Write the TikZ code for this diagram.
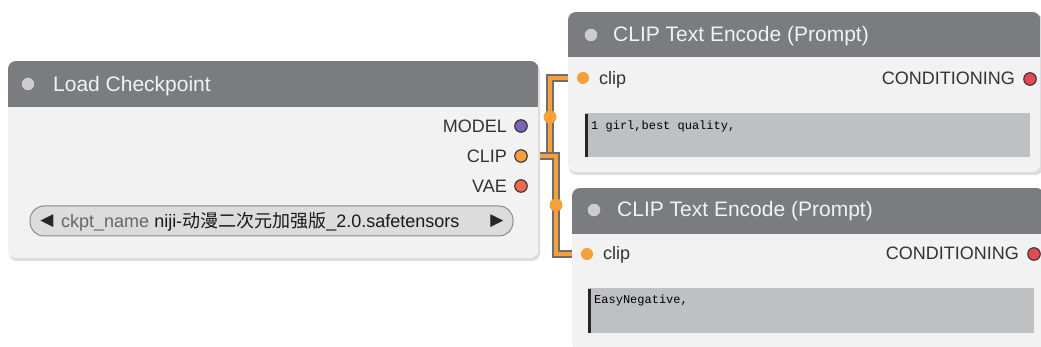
\documentclass[tikz,border=0pt]{standalone}
\usepackage{fontspec}
\setmainfont{Liberation Sans}
\setmonofont{Liberation Mono}
\newfontfamily\cjk{Noto Sans CJK SC}
\newfontfamily\djv{DejaVu Sans}
\definecolor{bodyc}{HTML}{F2F2F2}
\definecolor{headc}{HTML}{7B7C7F}
\definecolor{hdotc}{HTML}{CDCDCD}
\definecolor{titlec}{HTML}{F2F2F2}
\definecolor{lblc}{HTML}{333333}
\definecolor{clipc}{HTML}{F5A03A}
\definecolor{modelc}{HTML}{7A63B8}
\definecolor{vaec}{HTML}{EE6A4A}
\definecolor{condc}{HTML}{E44A55}
\definecolor{areac}{HTML}{BFC0C2}
\definecolor{combofill}{HTML}{DCDCDC}
\definecolor{comboline}{HTML}{8A8A8A}
\definecolor{linkout}{HTML}{6E6E6E}
\definecolor{shadowc}{HTML}{DCDCDC}
\tikzset{
  nodebox/.style={rectangle, fill=bodyc, rounded corners=8pt, inner sep=0, anchor=north west},
  titletxt/.style={anchor=base west, inner sep=0, text=titlec, font=\fontsize{21}{24}\selectfont},
  lbl/.style={inner sep=0, text=lblc, font=\fontsize{18}{20}\selectfont},
  hdot/.style={circle, fill=hdotc, minimum size=12.5pt, inner sep=0},
  slot/.style={circle, minimum size=12.5pt, inner sep=0, draw=lblc, line width=1.1pt},
  inslot/.style={circle, minimum size=12pt, inner sep=0, fill=clipc},
  middot/.style={circle, minimum size=13pt, inner sep=0, fill=clipc},
  link/.style={draw=linkout, line width=2pt, double=clipc, double distance=4.4pt},
  textarea/.style={fill=areac},
  monotxt/.style={anchor=base west, inner sep=0, text=black, font=\ttfamily\fontsize{12}{13}\selectfont},
  arrowtxt/.style={inner sep=0, text=black!85, font=\djv\fontsize{17}{18}\selectfont},
}
\begin{document}
\begin{tikzpicture}[x=1pt,y=-1pt]
\useasboundingbox (0,0) rectangle (1041,347);
\fill[white] (0,0) rectangle (1041,347);

% ---- links (behind nodes)
\coordinate (m1) at (550,117);
\coordinate (m2) at (556,205);
\coordinate (lcclipc) at (521,156);
\coordinate (t1clipc) at (583,78);
\coordinate (t2clipc) at (587,254);
\draw[link] (lcclipc) -| (m1) |- (t1clipc);
\draw[link] (lcclipc) -| (m2) |- (t2clipc);
\node[middot] (m1dot) at (m1) {};
\node[middot] (m2dot) at (m2) {};

% ---- Load Checkpoint
\fill[shadowc, rounded corners=8pt] (9,63) rectangle (540,261);
\node[nodebox, minimum width=530pt, minimum height=197pt] (lc) at (8,61) {};
\begin{scope}
  \clip[rounded corners=8pt] (lc.north west) rectangle (lc.south east);
  \fill[headc] (lc.north west) rectangle ([yshift=-46pt]lc.north east);
\end{scope}
\node[hdot] (lcdot) at (28,84) {};
\node[titletxt] (lctitle) at (53,91.5) {Load Checkpoint};
\node[slot, fill=modelc] (lcmodel) at (521,126) {};
\node[slot, fill=clipc] (lcclip) at (521,156) {};
\node[slot, fill=vaec] (lcvae) at (521,186) {};
\node[lbl, anchor=base east] (lcmodelt) at (507,133) {MODEL};
\node[lbl, anchor=base east] (lcclipt) at (507,163) {CLIP};
\node[lbl, anchor=base east] (lcvaet) at (507,193) {VAE};
\draw[fill=combofill, draw=comboline, line width=1pt, rounded corners=14pt] (30,206) rectangle (513,236);
\node[arrowtxt] (larr) at (47,221) {◀};
\node[arrowtxt] (rarr) at (497,221) {▶};
\node[anchor=base west, inner sep=0, font=\fontsize{18}{20}\selectfont] (combo) at (61,227.5)
  {\textcolor{black!60}{ckpt\_name} \textcolor{black!90}{niji-{\cjk 动漫二次元加强版}\_2.0.safetensors}};

% ---- CLIP Text Encode 1
\fill[shadowc, rounded corners=8pt] (569,14) rectangle (1043,175);
\node[nodebox, minimum width=472pt, minimum height=160pt] (t1) at (568,12) {};
\begin{scope}
  \clip[rounded corners=8pt] (t1.north west) rectangle (t1.south east);
  \fill[headc] (t1.north west) rectangle ([yshift=-45pt]t1.north east);
\end{scope}
\node[hdot] (t1dot) at (591,35) {};
\node[titletxt] (t1title) at (613,42) {CLIP Text Encode (Prompt)};
\node[inslot] (t1clip) at (t1clipc) {};
\node[lbl, anchor=base west] (t1clipt) at (599,85) {clip};
\node[slot, fill=condc] (t1cond) at (1030,79) {};
\node[lbl, anchor=base east] (t1condt) at (1015,85) {CONDITIONING};
\fill[textarea] (585,113) rectangle (1030,157);
\fill[black!85] (585,114) rectangle (587.5,157);
\node[monotxt] (t1text) at (591,130) {1 girl,best quality,};

% ---- CLIP Text Encode 2
\fill[shadowc, rounded corners=8pt] (573,190) rectangle (1047,352);
\node[nodebox, minimum width=472pt, minimum height=162pt] (t2) at (572,188) {};
\begin{scope}
  \clip[rounded corners=8pt] (t2.north west) rectangle (t2.south east);
  \fill[headc] (t2.north west) rectangle ([yshift=-46pt]t2.north east);
\end{scope}
\node[hdot] (t2dot) at (594,210) {};
\node[titletxt] (t2title) at (617,217) {CLIP Text Encode (Prompt)};
\node[inslot] (t2clip) at (t2clipc) {};
\node[lbl, anchor=base west] (t2clipt) at (603,260) {clip};
\node[slot, fill=condc] (t2cond) at (1034,254) {};
\node[lbl, anchor=base east] (t2condt) at (1019,260) {CONDITIONING};
\fill[textarea] (588,288) rectangle (1034,333);
\fill[black!85] (588,289) rectangle (590.5,333);
\node[monotxt] (t2text) at (594,304) {EasyNegative,};
\end{tikzpicture}
\end{document}
